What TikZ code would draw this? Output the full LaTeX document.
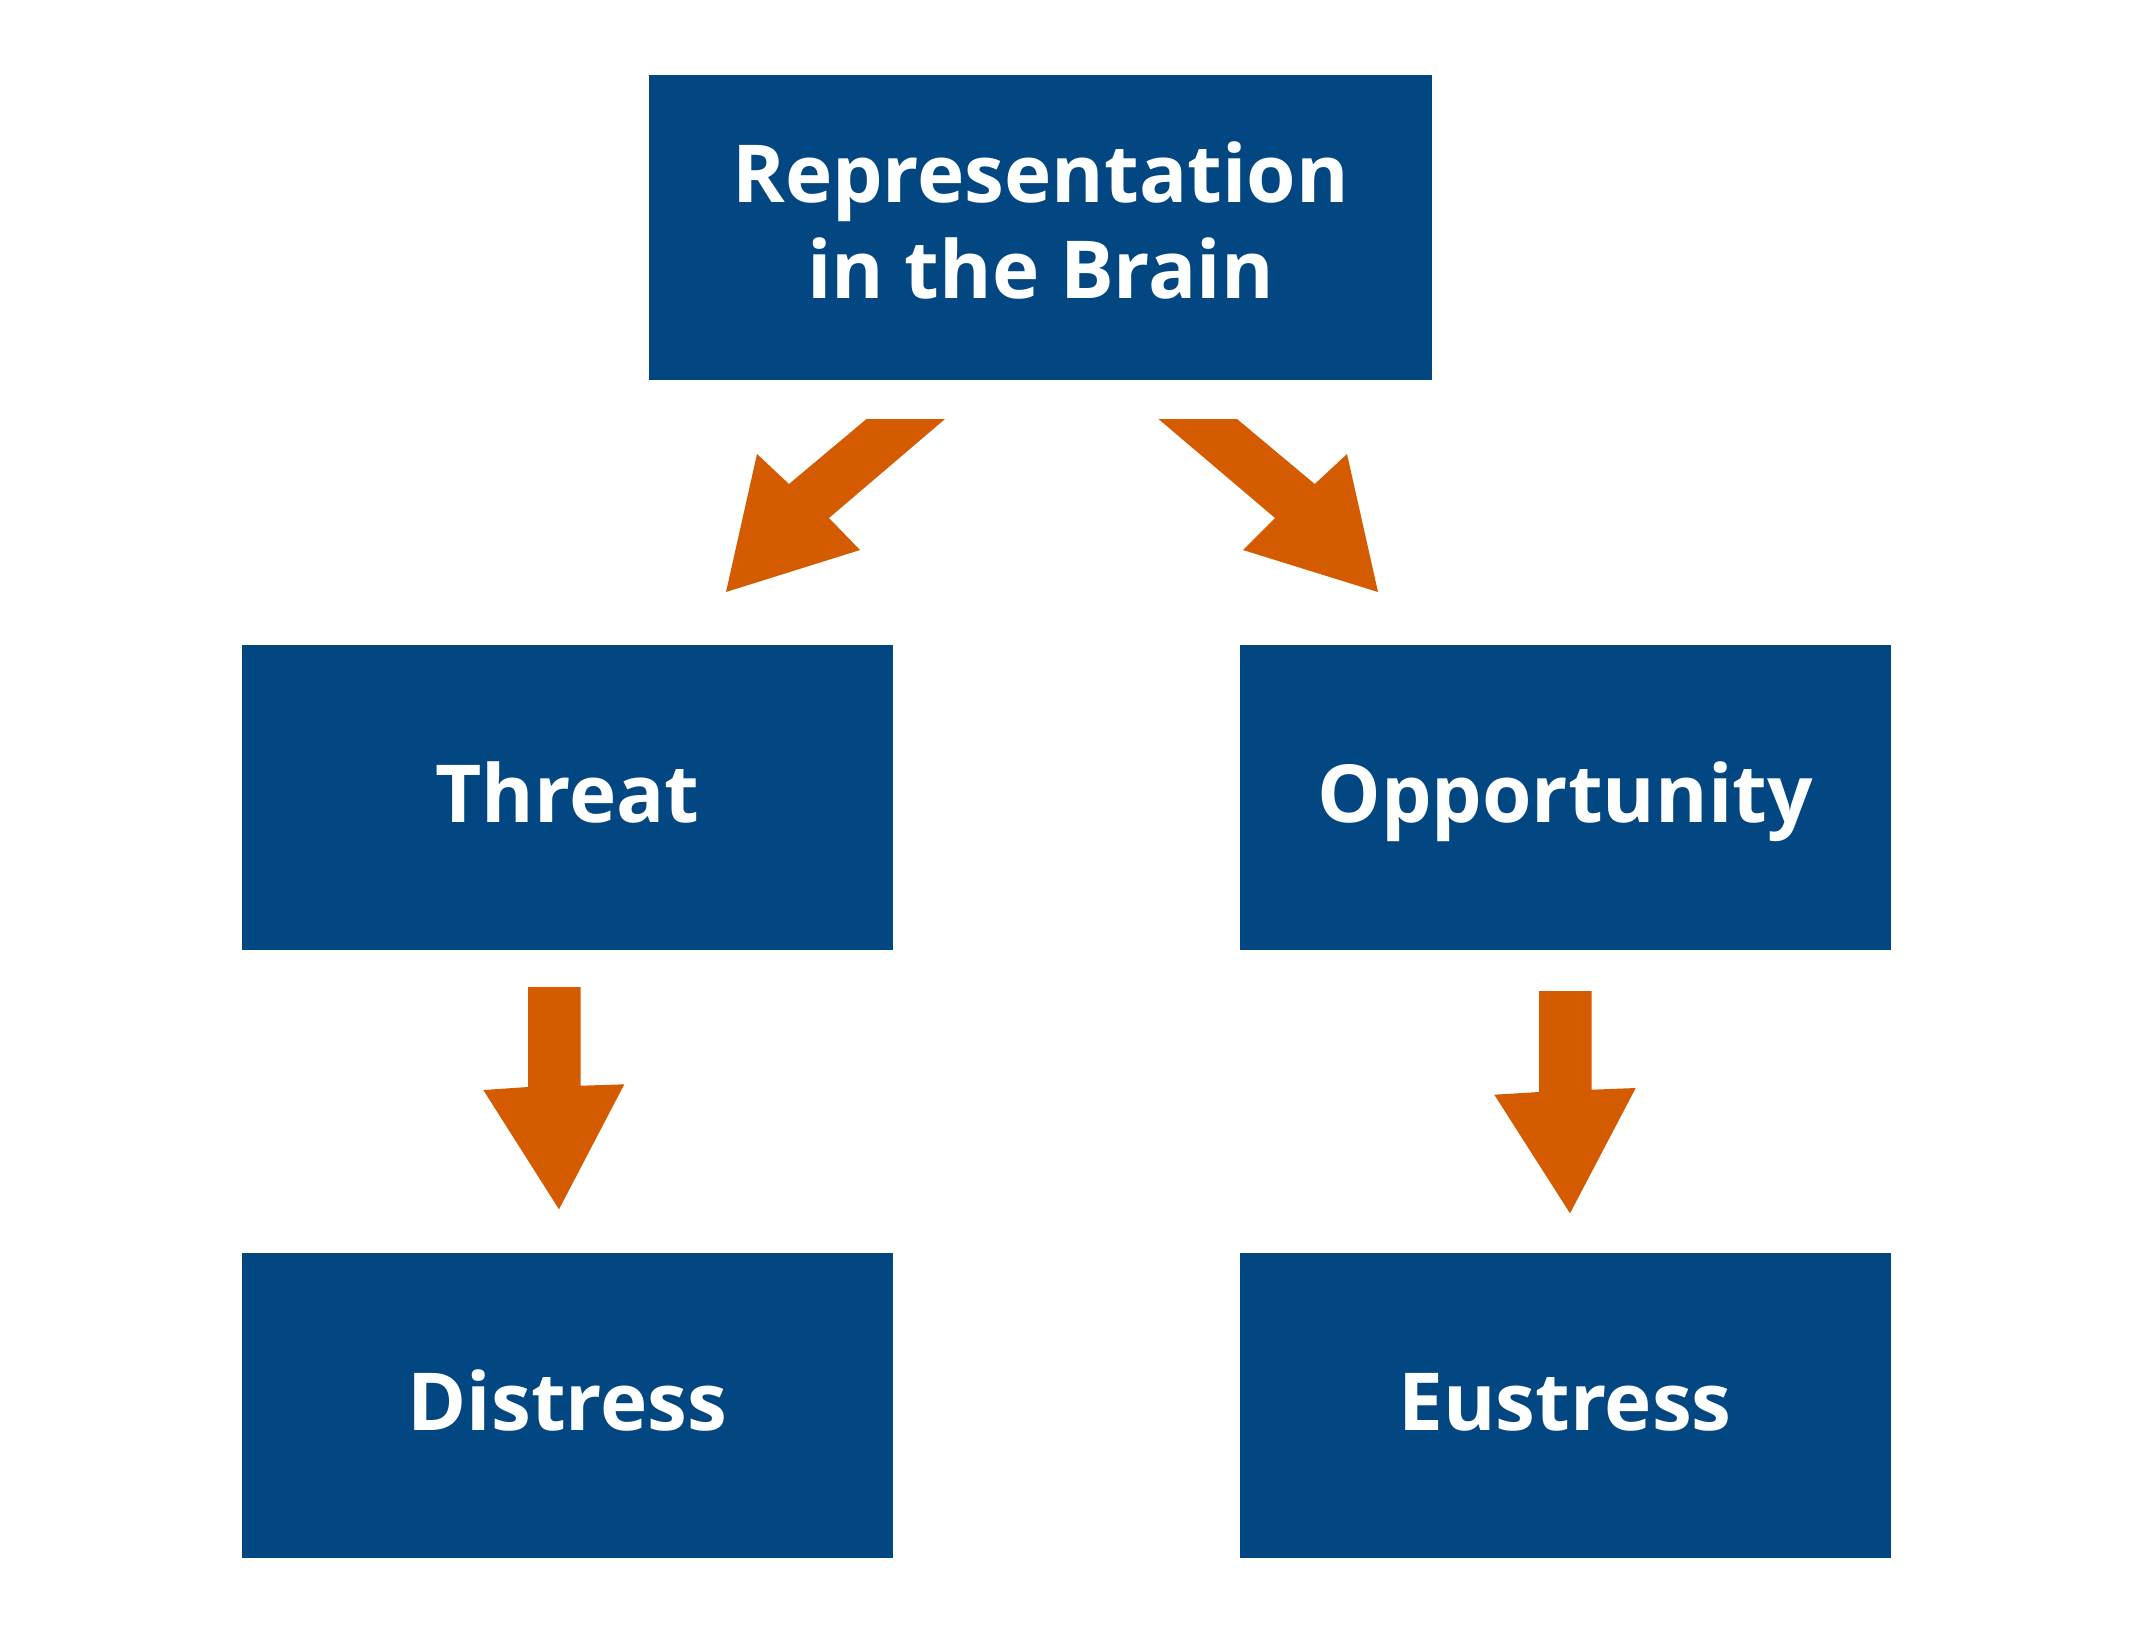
\documentclass[tikz,border=0pt]{standalone}
\usepackage{fontspec}
\setmainfont{Open Sans}[BoldFont={* Bold}]
\definecolor{boxblue}{HTML}{034782}
\definecolor{arroworange}{HTML}{D45B00}
\begin{document}
\begin{tikzpicture}[x=0.5pt,y=-0.5pt,
  box/.style={rectangle, fill=boxblue, draw=none, inner sep=0pt, outer sep=0pt,
    text=white, font=\bfseries\fontsize{40}{48}\selectfont},
  onebox/.style={box, minimum width=325.5pt, minimum height=152.5pt,
    text height=31pt, text depth=6pt},
  blockarrow/.style={fill=arroworange, draw=none}]
\useasboundingbox (0,0) rectangle (2134,1650);
\node[box, minimum width=391.5pt, minimum height=152.5pt, text height=82.8pt, text depth=12.2pt]
  (top) at (1040.5,227.5) {\vbox{\hsize=391pt\centering Representation\\in the Brain}};
\node[onebox] (threat) at (567.5,797.5) {Threat};
\node[onebox] (opp) at (1565,797.5) {Opportunity};
\node[onebox] (distress) at (567.5,1405.5) {Distress};
\node[onebox] (eustress) at (1565,1405.5) {Eustress};
% block arrows
\fill[blockarrow] (866.5,419) -- (945,419) -- (829,518) -- (860,550) -- (726,592) -- (757,454) -- (789,484) -- cycle;
\fill[blockarrow] (1158.5,419) -- (1237,419) -- (1314.7,484) -- (1347,454) -- (1378,592) -- (1243,550) -- (1275,518) -- cycle;
\fill[blockarrow] (528,987) -- (580.7,987) -- (580.7,1085.7) -- (624.3,1084.3) -- (559,1209.3) -- (483.3,1090) -- (528,1087) -- cycle;
\fill[blockarrow] (1539,991) -- (1591.7,991) -- (1591.7,1089.7) -- (1635.7,1088) -- (1570,1213.3) -- (1494.3,1094.7) -- (1539,1092) -- cycle;
\end{tikzpicture}
\end{document}
